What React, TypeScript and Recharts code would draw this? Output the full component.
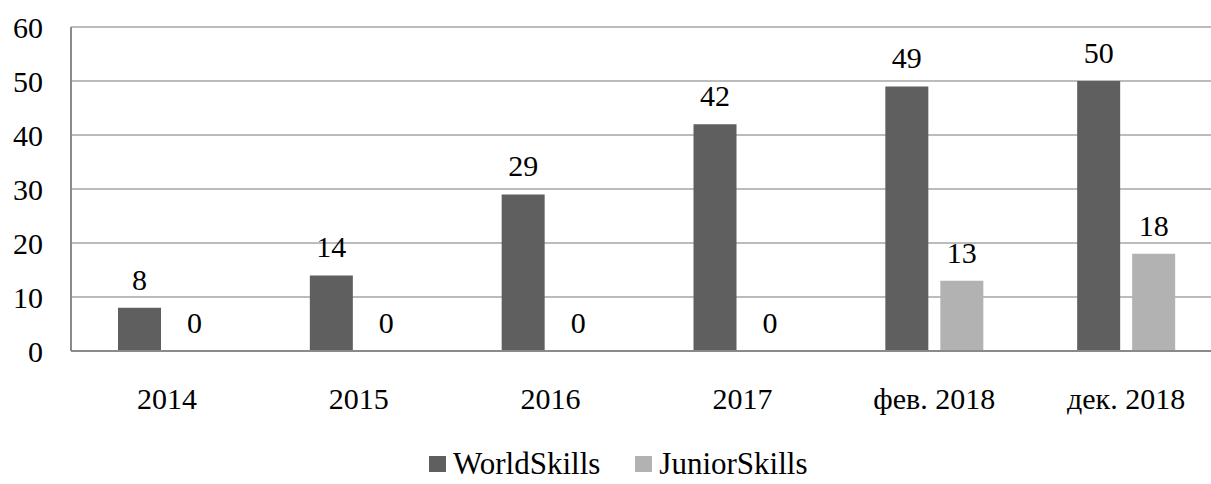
import React from 'react';
import { BarChart, Bar, XAxis, YAxis, CartesianGrid, Legend, LabelList } from 'recharts';

const categories = ['2014', '2015', '2016', '2017', 'фев. 2018', 'дек. 2018'];
const worldSkills = [8, 14, 29, 42, 49, 50];
const juniorSkills = [0, 0, 0, 0, 13, 18];
const yTicks = [0, 10, 20, 30, 40, 50, 60];

const COLORS = {
  world: '#5f5f5f',
  junior: '#b2b2b2',
  grid: '#a6a6a6',
  axis: '#8a8a8a',
  text: '#000000',
};

const FONT = 'Liberation Serif, DejaVu Serif, serif';

const data = categories.map((name, i) => ({
  name,
  world: worldSkills[i],
  junior: juniorSkills[i],
}));

// keep zero bars in the list so their "0" labels get drawn
const tinyForZero = (value: any) => (Number(value) === 0 ? 0.01 : 0);

const LegendContent = () => {
  const items = [
    { label: 'WorldSkills', color: COLORS.world },
    { label: 'JuniorSkills', color: COLORS.junior },
  ];
  return (
    <div style={{ display: 'flex', height: 44, paddingTop: 8, boxSizing: 'border-box', fontFamily: FONT, fontSize: 31, lineHeight: '31px', color: COLORS.text, whiteSpace: 'nowrap' }}>
      {items.map((it, i) => (
        <div key={i} style={{ display: 'flex', alignItems: 'flex-start', marginRight: 35 }}>
          <span style={{ display: 'inline-block', width: 17, height: 16, marginTop: 8, marginRight: 7, background: it.color }} />
          <span>{it.label}</span>
        </div>
      ))}
    </div>
  );
};

export default function App() {
  return (
    <div style={{ position: 'fixed', left: 0, top: 0, width: 1211, height: 484, overflow: 'hidden', background: '#fff' }}>
      <BarChart
        width={1230}
        height={484}
        data={data}
        margin={{ top: 27, right: 8, left: 0, bottom: 0 }}
        barSize={43}
        barGap={12}
      >
        <CartesianGrid vertical={false} stroke={COLORS.grid} strokeWidth={1.5} />
        <XAxis
          dataKey="name"
          height={89}
          tickLine={false}
          tickSize={0}
          tickMargin={37}
          axisLine={{ stroke: COLORS.axis, strokeWidth: 2 }}
          tick={{ fill: COLORS.text, fontSize: 30, fontFamily: FONT }}
          interval={0}
        />
        <YAxis
          width={71}
          domain={[0, 60]}
          ticks={yTicks}
          tickLine={false}
          tickSize={0}
          tickMargin={28}
          axisLine={{ stroke: COLORS.axis, strokeWidth: 2 }}
          tick={{ fill: COLORS.text, fontSize: 30, fontFamily: FONT }}
        />
        <Legend
          verticalAlign="bottom"
          content={<LegendContent />}
          wrapperStyle={{ left: 429, bottom: 0, width: 500 }}
        />
        <Bar dataKey="world" name="WorldSkills" fill={COLORS.world} isAnimationActive={false}>
          <LabelList dataKey="world" position="top" offset={18} fill={COLORS.text} fontSize={30} fontFamily={FONT} />
        </Bar>
        <Bar dataKey="junior" name="JuniorSkills" fill={COLORS.junior} minPointSize={tinyForZero} isAnimationActive={false}>
          <LabelList dataKey="junior" position="top" offset={18} fill={COLORS.text} fontSize={30} fontFamily={FONT} />
        </Bar>
      </BarChart>
    </div>
  );
}
